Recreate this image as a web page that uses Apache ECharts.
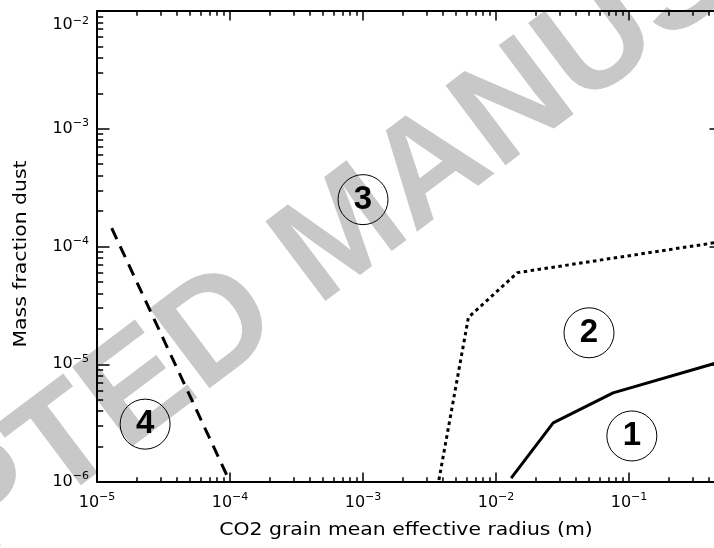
<!DOCTYPE html>
<html>
<head>
<meta charset="utf-8">
<script src="https://cdn.jsdelivr.net/npm/echarts@6/dist/echarts.min.js"></script>
<style>
  html, body { margin: 0; padding: 0; background: #fff; }
  #chart { width: 714px; height: 548px; }
</style>
</head>
<body>
<div id="chart"></div>
<script>
// Regime boundaries: CO2 grain radius (m) vs. dust mass fraction
const solidRadius  = [0.013, 0.0269, 0.0759, 0.5];
const solidDust    = [1.08e-6, 3.18e-6, 5.72e-6, 1.06e-5];
const dottedRadius = [3.72e-3, 6.2e-3, 1.45e-2, 0.5];
const dottedDust   = [1.04e-6, 2.5e-5, 6.0e-5, 1.1e-4];
const dashedRadius = [1.29e-5, 1.0e-4];
const dashedDust   = [1.43e-4, 1.0e-6];

// Circled regime numbers
const regionNames  = ['1', '2', '3', '4'];
const regionRadius = [0.105, 0.05, 1.0e-3, 2.3e-5];
const regionDust   = [2.46e-6, 1.85e-5, 2.5e-4, 3.1e-6];

// Axis ranges and decade ticks
const xRange = [1e-5, 0.5];
const yRange = [1e-6, 1e-2];
const xMajorTicks = [1e-5, 1e-4, 1e-3, 1e-2, 1e-1];
const yMajorTicks = [1e-6, 1e-5, 1e-4, 1e-3, 1e-2];

const xTitle = 'CO2 grain mean effective radius (m)';
const yTitle = 'Mass fraction dust';
const stamp = 'ACCEPTED MANUSCRIPT';

const FONT = 'DejaVu Sans';

function minorTicks(lo, hi) {
  const out = [];
  for (let e = Math.floor(Math.log10(lo)); e <= Math.ceil(Math.log10(hi)); e++) {
    for (let k = 2; k <= 9; k++) {
      const v = k * Math.pow(10, e);
      if (v > lo && v < hi) out.push(v);
    }
  }
  return out;
}

function zip(xs, ys) { return xs.map((x, i) => [x, ys[i]]); }

const rich = {
  b:  { fontFamily: FONT, fontSize: 16, lineHeight: 22, color: '#000' },
  e:  { fontFamily: FONT, fontSize: 11, lineHeight: 11, verticalAlign: 'top', color: '#000' },
  bt: { fontFamily: FONT, fontSize: 16, lineHeight: 22, verticalAlign: 'top', padding: [17, 0, 0, 0], color: '#000' },
  et: { fontFamily: FONT, fontSize: 11, lineHeight: 11, verticalAlign: 'top', padding: [16, 0, 0, 0], color: '#000' }
};

function expText(v) {
  const p = Math.round(Math.log10(v));
  return (p < 0 ? '\u2212' : '') + Math.abs(p);
}
function xLabel(v) { return '{b|10}{e|' + expText(v) + '}'; }
function yLabel(v) {
  // the top decade label sits just below the frame corner
  if (v === yRange[1]) return '{bt|10}{et|' + expText(v) + '}';
  return '{b|10}{e|' + expText(v) + '}';
}

function logAxis(dim, position, range, ticks, opts) {
  const a = {
    type: 'log',
    logBase: 10,
    position: position,
    min: range[0],
    max: range[1],
    splitLine: { show: false },
    axisLine: { show: opts.line, onZero: false, lineStyle: { color: '#000', width: 2 } },
    axisTick: {
      show: true, inside: true, length: opts.tickLen,
      customValues: ticks,
      lineStyle: { color: '#000', width: 1.5 }
    },
    axisLabel: { show: false },
    silent: true
  };
  if (opts.formatter) {
    a.axisLabel = {
      show: true,
      customValues: ticks,
      margin: dim === 'x' ? 10 : 8,
      formatter: opts.formatter,
      rich: rich,
      color: '#000'
    };
  }
  return a;
}

const xMinor = minorTicks(xRange[0], xRange[1]);
const yMinor = minorTicks(yRange[0], yRange[1]);

// tick lengths follow the frame size: y ticks scale with plot width, x ticks with plot height
const X_MAJOR = 9.4, X_MINOR = 4.7, Y_MAJOR = 12.5, Y_MINOR = 6.2;

const option = {
  backgroundColor: '#fff',
  animation: false,
  grid: { left: 97, right: -8, top: 11, bottom: 66, containLabel: false, outerBoundsMode: 'none' },
  graphic: [
    {
      type: 'text', z: -10, silent: true,
      x: 345, y: 236, rotation: 37 * Math.PI / 180,
      style: {
        text: stamp, fontFamily: 'Liberation Sans', fontWeight: 'bold', fontSize: 145,
        fill: '#c8c8c8', align: 'center', verticalAlign: 'middle'
      }
    },
    {
      type: 'text', silent: true,
      x: 406, y: 531, scaleX: 1.2,
      style: { text: xTitle, fontFamily: FONT, fontSize: 17, fill: '#000', align: 'center', verticalAlign: 'middle' }
    },
    {
      type: 'text', silent: true,
      x: 22, y: 254, rotation: Math.PI / 2, scaleX: 1.2,
      style: { text: yTitle, fontFamily: FONT, fontSize: 17, fill: '#000', align: 'center', verticalAlign: 'middle' }
    }
  ],
  xAxis: [
    logAxis('x', 'bottom', xRange, xMajorTicks, { line: true, tickLen: X_MAJOR, formatter: xLabel }),
    logAxis('x', 'bottom', xRange, xMinor, { line: false, tickLen: X_MINOR }),
    logAxis('x', 'top', xRange, xMajorTicks, { line: true, tickLen: X_MAJOR }),
    logAxis('x', 'top', xRange, xMinor, { line: false, tickLen: X_MINOR })
  ],
  yAxis: [
    logAxis('y', 'left', yRange, yMajorTicks, { line: true, tickLen: Y_MAJOR, formatter: yLabel }),
    logAxis('y', 'left', yRange, yMinor, { line: false, tickLen: Y_MINOR }),
    logAxis('y', 'right', yRange, yMajorTicks, { line: true, tickLen: Y_MAJOR }),
    logAxis('y', 'right', yRange, yMinor, { line: false, tickLen: Y_MINOR })
  ],
  series: [
    {
      type: 'line', xAxisIndex: 0, yAxisIndex: 0, symbol: 'none', clip: true,
      data: zip(solidRadius, solidDust),
      lineStyle: { color: '#000', width: 3 }
    },
    {
      type: 'line', xAxisIndex: 0, yAxisIndex: 0, symbol: 'none', clip: true,
      data: zip(dottedRadius, dottedDust),
      lineStyle: { color: '#000', width: 3, type: [3.5, 3.5], cap: 'butt' }
    },
    {
      type: 'line', xAxisIndex: 0, yAxisIndex: 0, symbol: 'none', clip: true,
      data: zip(dashedRadius, dashedDust),
      lineStyle: { color: '#000', width: 3, type: [12, 8], cap: 'butt' }
    },
    {
      type: 'scatter', xAxisIndex: 0, yAxisIndex: 0,
      symbol: 'circle', symbolSize: 50,
      data: regionNames.map((n, i) => ({ name: n, value: [regionRadius[i], regionDust[i]] })),
      itemStyle: { color: 'rgba(0,0,0,0)', borderColor: '#000', borderWidth: 1, opacity: 1 },
      label: {
        show: true, position: 'inside', formatter: '{b}',
        fontFamily: 'Liberation Sans', fontWeight: 'bold', fontSize: 33, color: '#000'
      },
      emphasis: { disabled: true },
      z: 5
    }
  ]
};

echarts.init(document.getElementById('chart'), null, { renderer: 'canvas' }).setOption(option);
</script>
</body>
</html>
